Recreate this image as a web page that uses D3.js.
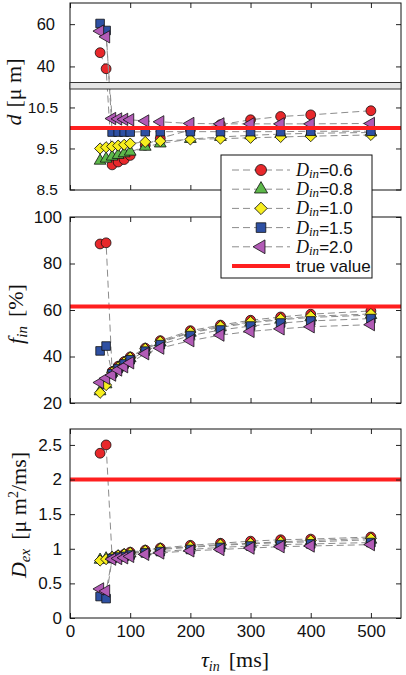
<!DOCTYPE html>
<html><head><meta charset="utf-8">
<script src="https://cdn.jsdelivr.net/npm/d3@7"></script>
<style>
body{margin:0;background:#fff;}
svg{display:block;}
</style></head><body>
<svg id="c" width="406" height="675"></svg>
<script>
// ---------- data ----------
const tau = [50,60,70,80,90,100,125,150,200,250,300,350,400,500];
const dinLabels = ["0.6","0.8","1.0","1.5","2.0"];
const xTicks = [0,100,200,300,400,500];

// panel 1 : d [um]
const d_06 = [46.5,38.9,9.10,9.17,9.23,9.33,9.58,9.75,9.95,10.08,10.20,10.28,10.32,10.42];
const d_08 = [9.20,9.25,9.30,9.34,9.38,9.42,9.54,9.62,9.73,9.78,9.82,9.85,9.87,9.89];
const d_10 = [9.50,9.53,9.55,9.57,9.59,9.62,9.66,9.68,9.72,9.74,9.76,9.78,9.80,9.83];
const d_15 = [60.3,57.0,9.90,9.90,9.90,9.90,9.91,9.91,9.91,9.91,9.91,9.91,9.92,9.92];
const d_20 = [56.7,54.0,10.23,10.22,10.21,10.20,10.17,10.15,10.11,10.10,10.10,10.10,10.10,10.11];
const dUpperTicks = [60,40];
const dLowerTicks = [10.5,9.5,8.5];
const dTrue = 10;

// panel 2 : f_in [%]
const f_06 = [88.4,88.9,33.5,35.8,37.8,39.8,43.6,46.8,51.1,53.5,55.6,57.0,58.2,59.6];
const f_08 = [25.0,28.0,33.0,35.2,37.2,39.2,43.0,46.0,50.2,52.5,54.5,55.8,56.8,57.8];
const f_10 = [24.4,27.7,33.2,35.4,37.5,39.5,43.3,46.4,50.5,53.0,54.9,56.2,57.3,58.3];
const f_15 = [42.4,44.5,32.6,34.8,36.8,38.6,42.3,45.1,49.0,51.4,53.1,54.4,55.3,56.3];
const f_20 = [28.8,30.6,32.0,34.2,35.6,37.3,41.2,43.6,46.8,49.2,50.8,51.9,52.8,53.7];
const fTicks = [20,40,60,80,100];
const fTrue = 61.5;

// panel 3 : D_ex [um^2/ms]
const dex_06 = [2.38,2.50,0.87,0.90,0.92,0.95,0.98,1.01,1.05,1.08,1.11,1.13,1.14,1.17];
const dex_08 = [0.84,0.86,0.87,0.89,0.91,0.93,0.96,0.99,1.02,1.05,1.07,1.09,1.10,1.13];
const dex_10 = [0.83,0.85,0.88,0.90,0.92,0.94,0.97,1.00,1.03,1.06,1.08,1.10,1.12,1.15];
const dex_15 = [0.31,0.28,0.86,0.88,0.89,0.91,0.94,0.96,0.99,1.02,1.04,1.06,1.07,1.09];
const dex_20 = [0.42,0.39,0.85,0.86,0.87,0.89,0.92,0.94,0.97,0.99,1.01,1.03,1.04,1.06];
const dexTicks = [0,0.5,1,1.5,2,2.5];
const dexTrue = 2;

// ---------- styles ----------
const colors = ["#e8282b","#5db84a","#f7ee1e","#2e50a3","#b25bb6"];
const symbols = [d3.symbolCircle, d3.symbolTriangle, d3.symbolSquare, d3.symbolSquare, d3.symbolTriangle];
const symSize = [76, 60, 62, 74, 66];
const symRot = [0, 0, 45, 0, -90];
const redLine = "#ff1f1f";
const tickFont = "'Liberation Sans', Arial, sans-serif";
const serif = "'Liberation Serif', 'Times New Roman', serif";

const svg = d3.select("#c");
const L = 70, R = 401;
const x = d3.scaleLinear().domain([0,550]).range([L,R]);

function panel(top, bottom, yfun, series, trueVal, opts) {
  const g = svg.append("g");
  series.forEach((vals, i) => {
    const pts = tau.map((t,k)=>[t, vals[k]]);
    g.append("path")
      .attr("d", d3.line().x(d=>x(d[0])).y(d=>yfun(d[1]))(pts))
      .attr("fill","none").attr("stroke","#8c8c8c").attr("stroke-width",1)
      .attr("stroke-dasharray","7,4");
    g.selectAll(null).data(pts).enter().append("path")
      .attr("d", d3.symbol().type(symbols[i]).size(symSize[i]))
      .attr("transform", d=>`translate(${x(d[0])},${yfun(d[1])}) rotate(${symRot[i]})`)
      .attr("fill", colors[i]).attr("stroke","#111").attr("stroke-width",0.8);
  });
  g.append("line").attr("x1",L).attr("x2",R)
    .attr("y1",yfun(trueVal)).attr("y2",yfun(trueVal))
    .attr("stroke",redLine).attr("stroke-width",4);
  const xb = d3.axisBottom(x).tickValues(xTicks).tickSize(-5).tickPadding(7)
    .tickFormat(opts.xLabels ? d3.format("d") : "");
  const xa = g.append("g").attr("transform",`translate(0,${bottom})`).call(xb);
  const xt = g.append("g").attr("transform",`translate(0,${top})`)
    .call(d3.axisTop(x).tickValues(xTicks).tickSize(-5).tickFormat(""));
  [xa,xt].forEach(a=>{a.select(".domain").remove(); a.selectAll("line").attr("stroke","#222");});
  xa.selectAll("text").attr("font-family",tickFont).attr("font-size",17).attr("fill","#111");
  opts.yAxes.forEach(ya => {
    const al = g.append("g").attr("transform",`translate(${L},0)`)
      .call(d3.axisLeft(ya.scale).tickValues(ya.ticks).tickSize(-5).tickPadding(ya.pad).tickFormat(d3.format("")));
    const ar = g.append("g").attr("transform",`translate(${R},0)`)
      .call(d3.axisRight(ya.scale).tickValues(ya.ticks).tickSize(-5).tickFormat(""));
    [al,ar].forEach(a=>{a.select(".domain").remove(); a.selectAll("line").attr("stroke","#222");});
    al.selectAll("text").attr("font-family",tickFont).attr("font-size",ya.fs).attr("fill","#111");
  });
  g.append("rect").attr("x",L).attr("y",top).attr("width",R-L).attr("height",bottom-top)
    .attr("fill","none").attr("stroke","#111").attr("stroke-width",1);
  return g;
}

// panel 1 : broken axis
const yUp = d3.scaleLinear().domain([32.4,70]).range([82.5,3]);
const yLo = d3.scaleLinear().domain([8.5,10.95]).range([189.5,89]);
const yD = v => v > 20 ? yUp(v) : yLo(v);
const g1 = panel(3, 190, yD, [d_06,d_08,d_10,d_15,d_20], dTrue, {
  yAxes:[{scale:yUp, ticks:dUpperTicks, pad:15, fs:16.5},{scale:yLo, ticks:dLowerTicks, pad:12, fs:15.5}]
});
g1.append("rect").attr("x",L).attr("y",yUp(32.4)).attr("width",R-L).attr("height",yLo(10.95)-yUp(32.4))
  .attr("fill","#e6e6e6").attr("stroke","#333").attr("stroke-width",1);

// panel 2
const yF = d3.scaleLinear().domain([20,100]).range([403,217]);
panel(217, 403, yF, [f_06,f_08,f_10,f_15,f_20], fTrue, {
  yAxes:[{scale:yF, ticks:fTicks, pad:8, fs:17}]
});

// panel 3
const yX = d3.scaleLinear().domain([0,2.73]).range([618,429]);
panel(429, 618, yX, [dex_06,dex_08,dex_10,dex_15,dex_20], dexTrue, {
  yAxes:[{scale:yX, ticks:dexTicks, pad:8, fs:17}], xLabels:true
});

// ---------- axis labels ----------
function ylabel(cx, cy, parts) {
  const t = svg.append("text").attr("transform",`translate(${cx},${cy}) rotate(-90)`)
    .attr("text-anchor","middle").attr("font-family",serif).attr("font-size",22).attr("fill","#111");
  parts.forEach(p => {
    const s = t.append("tspan").text(p.t);
    if (p.i) s.attr("font-style","italic");
    if (p.fs) s.attr("font-size",p.fs);
    if (p.dy) s.attr("dy",p.dy);
    if (p.dx) s.attr("dx",p.dx);
  });
  return t;
}
ylabel(21, 92, [{t:"d",i:1},{t:"[μ m]",dx:7}]);
ylabel(23, 314, [{t:"f",i:1},{t:"in",i:1,fs:15,dy:4},{t:"[%]",dy:-4,dx:9}]);
ylabel(26, 515, [{t:"D",i:1},{t:"ex",i:1,fs:15,dy:4},{t:"[μ m",dy:-4,dx:9},{t:"2",fs:14,dy:-8},{t:"/ms]",dy:8}]);

const xl = svg.append("text").attr("x",235).attr("y",667).attr("text-anchor","middle")
  .attr("font-family",serif).attr("font-size",22).attr("fill","#111");
xl.append("tspan").text("τ").attr("font-style","italic");
xl.append("tspan").text("in").attr("font-style","italic").attr("font-size",14).attr("dy",4);
xl.append("tspan").text("[ms]").attr("dy",-4).attr("dx",9);

// ---------- legend ----------
const lg = svg.append("g");
lg.append("rect").attr("x",221).attr("y",155).attr("width",151).attr("height",123)
  .attr("fill","#fff").attr("stroke","#111").attr("stroke-width",1);
const ly0 = 170, ldy = 19.2;
dinLabels.forEach((lab,i) => {
  const yy = ly0 + i*ldy;
  lg.append("line").attr("x1",232).attr("x2",290).attr("y1",yy).attr("y2",yy)
    .attr("stroke","#8c8c8c").attr("stroke-width",1).attr("stroke-dasharray","7,4");
  lg.append("path").attr("d", d3.symbol().type(symbols[i]).size(symSize[i]*1.25))
    .attr("transform",`translate(261,${yy}) rotate(${symRot[i]})`)
    .attr("fill",colors[i]).attr("stroke","#111").attr("stroke-width",0.8);
  const t = lg.append("text").attr("x",296).attr("y",yy+6).attr("fill","#111");
  t.append("tspan").text("D").attr("font-family",serif).attr("font-style","italic").attr("font-size",18);
  t.append("tspan").text("in").attr("font-family",serif).attr("font-style","italic").attr("font-size",13).attr("dy",2);
  t.append("tspan").text("=" + lab).attr("font-family",tickFont).attr("font-size",17).attr("dy",-2);
});
{
  const yy = ly0 + 5*ldy;
  lg.append("line").attr("x1",232).attr("x2",290).attr("y1",yy).attr("y2",yy)
    .attr("stroke",redLine).attr("stroke-width",4);
  lg.append("text").attr("x",296).attr("y",yy+6).attr("font-family",tickFont).attr("font-size",17)
    .attr("fill","#111").text("true value");
}
</script>
</body></html>
